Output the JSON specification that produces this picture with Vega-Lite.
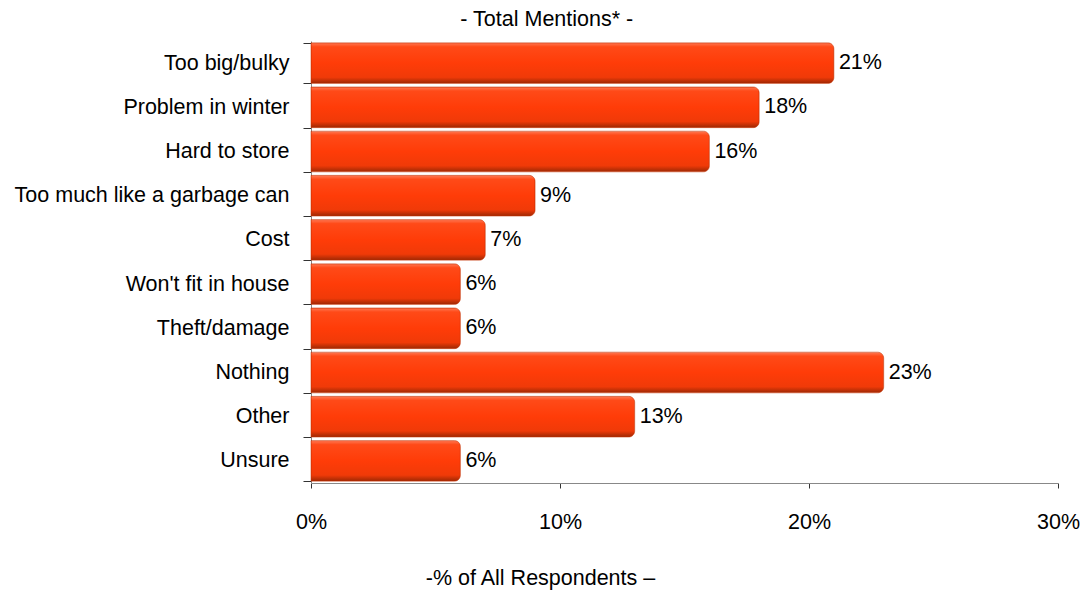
{
  "$schema": "https://vega.github.io/schema/vega-lite/v6.json",
  "autosize": "none",
  "width": 747,
  "height": 442,
  "padding": {"left": 311, "top": 41, "right": 23, "bottom": 117},
  "background": "white",
  "config": {
    "font": "Liberation Sans",
    "view": {"stroke": null}
  },
  "title": {
    "text": "- Total Mentions*  -",
    "anchor": "middle",
    "frame": "bounds",
    "fontSize": 21.5,
    "fontWeight": "normal",
    "color": "#000",
    "offset": 0
  },
  "data": {
    "values": [
      {"reason": "Too big/bulky", "pct": 21},
      {"reason": "Problem in winter", "pct": 18},
      {"reason": "Hard to store", "pct": 16},
      {"reason": "Too much like a garbage can", "pct": 9},
      {"reason": "Cost", "pct": 7},
      {"reason": "Won't fit in house", "pct": 6},
      {"reason": "Theft/damage", "pct": 6},
      {"reason": "Nothing", "pct": 23},
      {"reason": "Other", "pct": 13},
      {"reason": "Unsure", "pct": 6}
    ]
  },
  "transform": [{"calculate": "datum.pct + '%'", "as": "label"}],
  "encoding": {
    "y": {
      "field": "reason",
      "type": "nominal",
      "sort": null,
      "scale": {"paddingInner": 0.08, "paddingOuter": 0.04},
      "axis": {
        "title": null,
        "labelFontSize": 21.5,
        "labelColor": "#000",
        "labelLimit": 0,
        "tickSize": 8,
        "tickColor": "#333",
        "tickBand": "extent",
        "domainColor": "#888",
        "labelPadding": 14
      }
    },
    "x": {
      "field": "pct",
      "type": "quantitative",
      "scale": {"domain": [0, 30]},
      "axis": {
        "values": [0, 10, 20, 30],
        "labelExpr": "datum.value + '%'",
        "labelFlush": false,
        "grid": false,
        "labelFontSize": 21.5,
        "labelColor": "#000",
        "tickSize": 5,
        "tickColor": "#333",
        "domainColor": "#888",
        "labelPadding": 23,
        "title": "-% of All Respondents \u2013",
        "titleFontSize": 21.5,
        "titleFontWeight": "normal",
        "titleColor": "#000",
        "titleX": 229,
        "titleY": 95,
        "titleAlign": "center",
        "titleBaseline": "middle"
      }
    }
  },
  "layer": [
    {
      "mark": {
        "type": "bar",
        "cornerRadiusEnd": 6,
        "stroke": "#c43000",
        "strokeWidth": 0.5,
        "color": {
          "gradient": "linear",
          "x1": 0, "y1": 0, "x2": 0, "y2": 1,
          "stops": [
            {"offset": 0, "color": "#ff7a55"},
            {"offset": 0.1, "color": "#ff4a18"},
            {"offset": 0.5, "color": "#ff3c08"},
            {"offset": 0.85, "color": "#f03a08"},
            {"offset": 1, "color": "#9c2804"}
          ]
        }
      }
    },
    {
      "mark": {"type": "text", "align": "left", "baseline": "middle", "dx": 5, "fontSize": 21.5, "color": "#000"},
      "encoding": {
        "text": {"field": "label", "type": "nominal"}
      }
    }
  ]
}
